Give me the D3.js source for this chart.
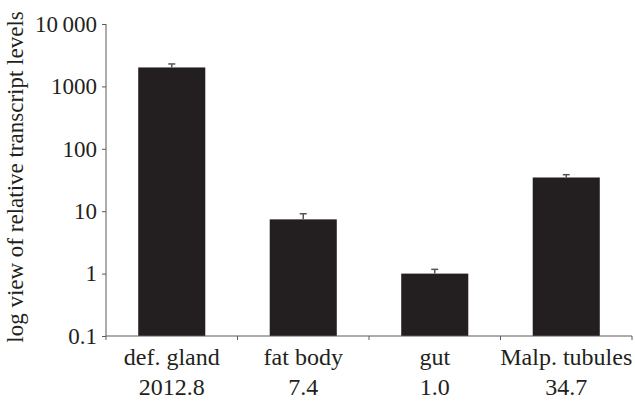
<!DOCTYPE html>
<html><head><meta charset="utf-8">
<script src="https://cdn.jsdelivr.net/npm/d3@7"></script>
<style>body{margin:0;background:#fff}svg{display:block}text{font-family:"Liberation Serif","Times New Roman",serif;fill:#231f20}</style>
</head><body>
<script>
const categories = ["def. gland", "fat body", "gut", "Malp. tubules"];
const valueLabels = ["2012.8", "7.4", "1.0", "34.7"];
const values = [2012.8, 7.4, 1.0, 34.7];
const errorTops = [2290, 9.1, 1.17, 38.5];
const yTicks = [0.1, 1, 10, 100, 1000, 10000];
const yTickLabels = ["0.1", "1", "10", "100", "1000", "10\u2009000"];
const yTitle = "log view of relative transcript levels";

const W = 635, H = 401;
const svg = d3.select("body").append("svg").attr("width", W).attr("height", H);
const x = d3.scaleBand().domain(categories).range([106, 632]).paddingInner(0.49).paddingOuter(0.245);
const y = d3.scaleLog().domain([0.1, 10000]).range([336, 24]);
const axisColor = "#5a5a5a";

// bars
svg.selectAll("rect.bar").data(values).join("rect")
  .attr("x", (d,i) => x(categories[i])).attr("width", x.bandwidth())
  .attr("y", d => y(d)).attr("height", d => y(0.1) - y(d)).attr("fill", "#231f20");

// error bars
const eb = svg.append("g").attr("stroke", "#555").attr("stroke-width", 1.5);
values.forEach((v,i) => {
  const cx = x(categories[i]) + x.bandwidth()/2;
  eb.append("line").attr("x1", cx).attr("x2", cx).attr("y1", y(v)).attr("y2", y(errorTops[i]));
  eb.append("line").attr("x1", cx-3.5).attr("x2", cx+3.5).attr("y1", y(errorTops[i])).attr("y2", y(errorTops[i]));
});

// y axis (lines from d3 axis, labels as plain text)
const yAxis = d3.axisLeft(y).tickValues(yTicks).tickFormat(() => "").tickSize(4);
const gy = svg.append("g").attr("transform", "translate(106,0)").call(yAxis);
gy.selectAll("text").remove();
gy.select(".domain").attr("stroke", axisColor).attr("d", "M0,24V336");
gy.selectAll(".tick line").attr("stroke", axisColor);
svg.append("g").selectAll("text").data(yTicks).join("text")
  .attr("x", 97).attr("y", d => y(d)).attr("dy", "0.34em")
  .attr("text-anchor", "end").attr("font-size", 23)
  .text((d,i) => yTickLabels[i]);

// x axis
const gx = svg.append("g").attr("transform", "translate(0,336)");
gx.append("line").attr("x1", 106).attr("x2", 632).attr("stroke", axisColor);
const bounds = [106, ...categories.slice(1).map(c => x(c) - x.step()*x.paddingInner()/2), 632];
gx.selectAll("line.t").data(bounds).join("line").attr("class","t")
  .attr("x1", d => d).attr("x2", d => d).attr("y1", 0).attr("y2", 4).attr("stroke", axisColor);
categories.forEach((c,i) => {
  const cx = x(c) + x.bandwidth()/2;
  gx.append("text").attr("x", cx).attr("y", 29).attr("text-anchor", "middle").attr("font-size", 24).text(c);
  gx.append("text").attr("x", cx).attr("y", 59).attr("text-anchor", "middle").attr("font-size", 24).text(valueLabels[i]);
});

// y title
svg.append("text").attr("transform", "translate(23,177) rotate(-90)").attr("text-anchor", "middle")
  .attr("font-size", 23).text(yTitle);
</script>
</body></html>
